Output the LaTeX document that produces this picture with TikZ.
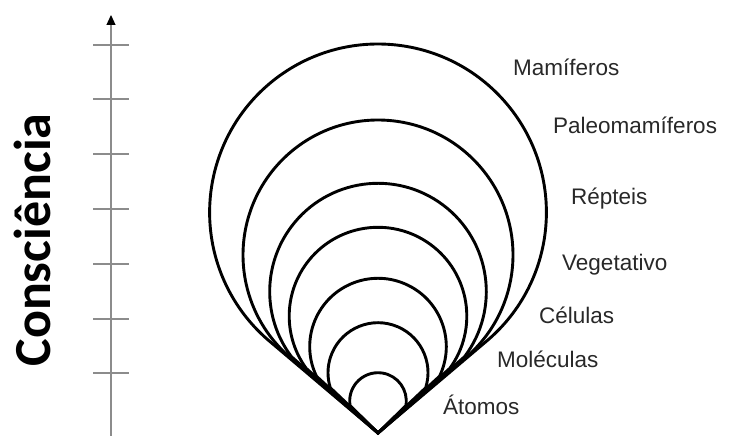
\documentclass[tikz,border=0pt]{standalone}
\usepackage{fontspec}
\setmainfont{Liberation Sans}
\newfontfamily\axisfont{Carlito}
\usetikzlibrary{arrows.meta}
\definecolor{axisgray}{RGB}{140,140,140}
\definecolor{labelgray}{RGB}{40,40,40}
\tikzset{
  drop/.style={line width=2.9pt, black, line join=miter, miter limit=20},
  tickline/.style={line width=1.2pt, axisgray},
  lbl/.style={anchor=base west, inner sep=0pt, text=labelgray, font=\fontsize{22.5}{26}\selectfont},
}
\begin{document}
\begin{tikzpicture}[x=1pt,y=1pt]
\useasboundingbox (0,0) rectangle (734,436);
% axis
\coordinate (axbot) at (111,0);
\coordinate (axtop) at (111,421);
\draw[tickline, -{Triangle[length=10pt,width=9pt,black]}] (axbot) -- (axtop);
\foreach \y in {391,337,282,227,172,117,63}{
  \draw[tickline] (93,\y) -- (129,\y);
}
\node[rotate=90, anchor=base, inner sep=0pt, font=\axisfont\bfseries\fontsize{52}{60}\selectfont] (cons) at (50,196) {Consciência};
% teardrops: centre height, radius, side angle from vertical
\coordinate (tip) at (378,3);
\foreach \cy/\r/\b in {223.6/168.4/49.8, 181/135/49.3, 144.4/108.3/48.6, 119.9/88.8/48, 89.4/68.3/47.3, 63.3/50/46.5, 35/28.3/45.5}{
  \pgfmathsetmacro\dd{(\cy-3)/100}
  \pgfmathsetmacro\rr{\r/100}
  \pgfmathsetmacro\qq{max(0,\rr*\rr-(\dd*sin(\b))^2)}
  \pgfmathsetmacro\tt{100*(\dd*cos(\b)+sqrt(\qq))}
  \pgfmathsetmacro\px{\tt*sin(\b)}
  \pgfmathsetmacro\py{\tt*cos(\b)-100*\dd}
  \pgfmathsetmacro\ang{atan2(\py,\px)}
  \draw[drop] (tip) -- ([shift={(\ang:\r)}]378,\cy) arc[start angle=\ang, end angle=180-\ang, radius=\r] -- cycle;
}
% labels
\node[lbl] (l1) at (513,360) {Mamíferos};
\node[lbl] (l2) at (553,302) {Paleomamíferos};
\node[lbl] (l3) at (571,231) {Répteis};
\node[lbl] (l4) at (562,165) {Vegetativo};
\node[lbl] (l5) at (539,112) {Células};
\node[lbl] (l6) at (497,68) {Moléculas};
\node[lbl] (l7) at (443,21) {Átomos};
\end{tikzpicture}
\end{document}
